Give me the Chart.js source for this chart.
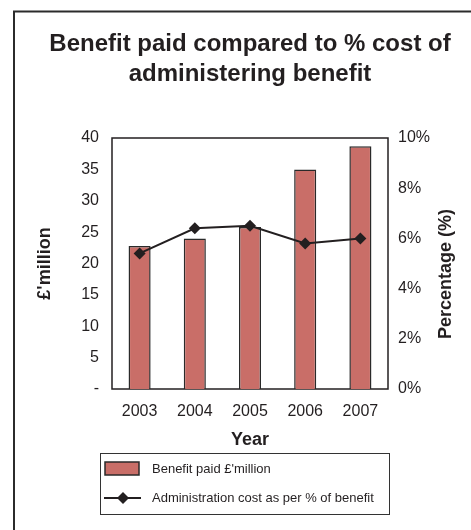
<!DOCTYPE html>
<html>
<head>
<meta charset="utf-8">
<script src="https://cdn.jsdelivr.net/npm/chart.js@4/dist/chart.umd.min.js"></script>
<style>
  html, body { margin: 0; padding: 0; background: #fff; overflow: hidden; }
  #wrap { width: 471px; height: 530px; overflow: hidden; position: relative; }
  canvas { display: block; }
</style>
</head>
<body>
<div id="wrap"><canvas id="c" width="500" height="545"></canvas></div>
<script>
// ---- data ----
const years = ['2003', '2004', '2005', '2006', '2007'];
const benefitPaid = [22.8, 24.0, 25.8, 35.0, 38.7];          // £ million
const adminCostPct = [5.4, 6.4, 6.5, 5.8, 6.0];              // % of benefit
const chartTitle = ['Benefit paid compared to % cost of', 'administering benefit'];
const leftAxisTitle = "£'million";
const rightAxisTitle = 'Percentage (%)';
const xAxisTitle = 'Year';
const seriesLabels = ["Benefit paid £'million", 'Administration cost as per % of benefit'];

const FONT = "'Liberation Sans', Arial, Helvetica, sans-serif";
const INK = '#231F20';
const BAR = '#C96E68';

const framePlugin = {
  id: 'frame',
  beforeDraw(chart) {
    const ctx = chart.ctx;
    ctx.save();
    ctx.fillStyle = '#fff';
    ctx.fillRect(0, 0, chart.width, chart.height);
    ctx.strokeStyle = '#2b2b2b';
    ctx.lineWidth = 2;
    ctx.strokeRect(14, 11.5, 472, 540);
    ctx.restore();
  },
  beforeDatasetsDraw(chart) {
    const {ctx, chartArea: a} = chart;
    ctx.save();
    ctx.strokeStyle = INK;
    ctx.lineWidth = 1.5;
    ctx.strokeRect(a.left, a.top, a.right - a.left, a.bottom - a.top);
    ctx.restore();
  },
  afterDraw(chart) {
    const ctx = chart.ctx;
    ctx.save();
    // right axis title, reading bottom-to-top
    ctx.translate(446.5, 274);
    ctx.rotate(-Math.PI / 2);
    ctx.font = 'bold 18px ' + FONT;
    ctx.fillStyle = INK;
    ctx.textAlign = 'center';
    ctx.textBaseline = 'middle';
    ctx.fillText(rightAxisTitle, 0, 0);
    ctx.restore();

    // legend box
    const ds = chart.data.datasets;
    const barDs = ds.find(d => d.type === 'bar');
    const lineDs = ds.find(d => d.type === 'line');
    ctx.save();
    ctx.strokeStyle = '#333';
    ctx.lineWidth = 1;
    ctx.strokeRect(100.5, 453.5, 289, 61);
    // bar swatch
    ctx.fillStyle = barDs.backgroundColor;
    ctx.fillRect(105, 462, 34, 13);
    ctx.strokeStyle = barDs.borderColor;
    ctx.lineWidth = 1.5;
    ctx.strokeRect(105, 462, 34, 13);
    // line swatch
    ctx.strokeStyle = lineDs.borderColor;
    ctx.lineWidth = 2;
    ctx.beginPath();
    ctx.moveTo(104, 498);
    ctx.lineTo(141, 498);
    ctx.stroke();
    ctx.fillStyle = lineDs.pointBackgroundColor;
    ctx.beginPath();
    ctx.moveTo(123, 492); ctx.lineTo(129, 498); ctx.lineTo(123, 504); ctx.lineTo(117, 498);
    ctx.closePath();
    ctx.fill();
    ctx.font = '13px ' + FONT;
    ctx.fillStyle = INK;
    ctx.textAlign = 'left';
    ctx.textBaseline = 'middle';
    ctx.fillText(barDs.label, 152, 469);
    ctx.fillText(lineDs.label, 152, 498);
    ctx.restore();
  }
};

new Chart(document.getElementById('c'), {
  data: {
    labels: years,
    datasets: [
      {
        type: 'bar',
        label: seriesLabels[0],
        data: benefitPaid,
        yAxisID: 'y',
        backgroundColor: BAR,
        borderColor: '#2a2a2a',
        borderWidth: 1.5,
        categoryPercentage: 1,
        barPercentage: 0.4,
        order: 1
      },
      {
        type: 'line',
        label: seriesLabels[1],
        data: adminCostPct,
        yAxisID: 'y1',
        borderColor: INK,
        borderWidth: 2,
        pointStyle: 'rectRot',
        pointRadius: 6,
        pointBackgroundColor: INK,
        pointBorderColor: INK,
        pointBorderWidth: 0,
        tension: 0,
        order: 0
      }
    ]
  },
  options: {
    responsive: false,
    animation: false,
    devicePixelRatio: 1,
    layout: { padding: { left: 0, right: 0, top: 0, bottom: 86 } },
    plugins: {
      legend: { display: false },
      tooltip: { enabled: false },
      title: {
        display: true,
        text: chartTitle,
        color: INK,
        font: { family: FONT, size: 24, weight: 'bold', lineHeight: '30px' },
        padding: { top: 29, bottom: 49 }
      }
    },
    scales: {
      x: {
        grid: { display: false, drawTicks: false },
        border: { display: false },
        ticks: { color: INK, font: { family: FONT, size: 16 }, padding: 13, maxRotation: 0 },
        title: { display: true, text: xAxisTitle, color: INK,
                 font: { family: FONT, size: 18, weight: 'bold' }, padding: { top: 0, bottom: 8 } },
        afterFit(s) { s.height = 70; }
      },
      y: {
        position: 'left',
        min: 0, max: 40,
        grid: { display: false, drawTicks: false },
        border: { display: false },
        ticks: { stepSize: 5, color: INK, font: { family: FONT, size: 16 }, padding: 13,
                 callback: v => v === 0 ? '-' : v },
        title: { display: true, text: leftAxisTitle, color: INK,
                 font: { family: FONT, size: 18, weight: 'bold' }, padding: { top: 34, bottom: 0 } },
        afterFit(s) { s.width = 112; }
      },
      y1: {
        position: 'right',
        min: 0, max: 10,
        grid: { display: false, drawTicks: false },
        border: { display: false },
        ticks: { stepSize: 2, color: INK, font: { family: FONT, size: 16 }, padding: 10,
                 callback: v => v + '%' },
        title: { display: false },
        afterFit(s) { s.width = 112; }
      }
    }
  },
  plugins: [framePlugin]
});
</script>
</body>
</html>
